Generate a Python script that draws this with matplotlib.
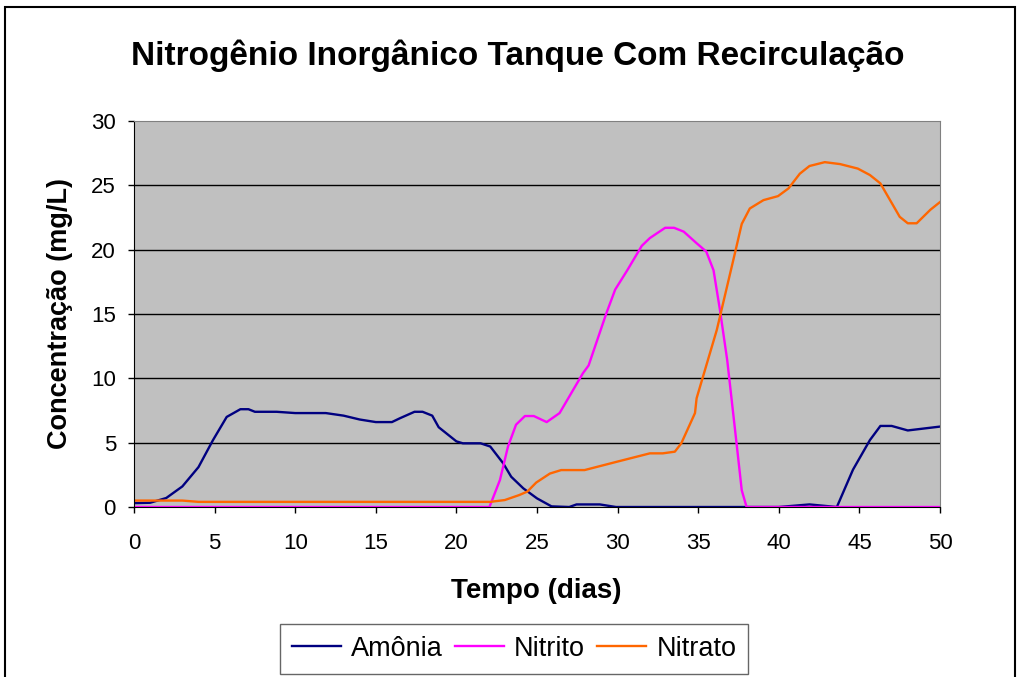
import matplotlib
matplotlib.use("Agg")
import matplotlib.pyplot as plt
from matplotlib.patches import Rectangle

plt.rcParams['font.family'] = ['Liberation Sans', 'DejaVu Sans']

# Amônia
dias_amonia = [0, 1, 2, 3, 4, 4.9, 5.75, 6.6, 7.1, 7.5, 8.85, 10, 11.9, 13, 14, 15,
               16, 16.5, 17.4, 17.9, 18.5, 18.9, 19.6, 20, 20.4, 21.5, 22.1, 22.9,
               23.4, 24.15, 25, 25.9, 27, 27.45, 28.9, 29.9, 35, 40, 41.9, 43.6, 44.6,
               45.65, 46.3, 47, 48, 50]
amonia = [0.3, 0.33, 0.7, 1.6, 3.1, 5.2, 7.0, 7.6, 7.6, 7.4, 7.4, 7.3, 7.3, 7.1, 6.8, 6.6,
          6.6, 6.9, 7.4, 7.4, 7.1, 6.2, 5.5, 5.1, 4.95, 4.95, 4.7, 3.4,
          2.35, 1.45, 0.67, 0.05, 0, 0.2, 0.2, 0, 0, 0, 0.2, 0, 2.9,
          5.2, 6.3, 6.3, 5.95, 6.25]

# Nitrito
dias_nitrito = [0, 22.05, 22.7, 23.2, 23.7, 24.25, 24.8, 25.6, 26.4, 27.85, 28.2, 29.3,
                29.85, 30.6, 31.5, 32, 32.95, 33.5, 34.1, 34.9, 35.5, 35.95, 36.35,
                36.8, 37.4, 37.7, 38, 50]
nitrito = [0, 0, 2.1, 4.7, 6.4, 7.07, 7.07, 6.6, 7.3, 10.4, 11.0, 15.05,
           16.9, 18.4, 20.3, 20.9, 21.7, 21.7, 21.4, 20.5, 19.85, 18.4, 15.3,
           11.4, 4.7, 1.3, 0, 0]

# Nitrato
dias_nitrato = [0, 1, 2, 3, 4, 10, 20, 22.1, 23, 23.9, 24.4, 24.95, 25.8, 26.5, 27.95,
                29.9, 32, 32.8, 33.55, 33.95, 34.8, 34.9, 36.15, 37.3, 37.7, 38.2,
                39.05, 39.95, 40.6, 41.3, 41.9, 42.85, 43.8, 44.9, 45.65, 46.3, 47.5,
                48, 48.55, 49.4, 50]
nitrato = [0.5, 0.5, 0.5, 0.5, 0.4, 0.4, 0.4, 0.4, 0.54, 0.93, 1.2, 1.9, 2.6, 2.87, 2.87,
           3.5, 4.17, 4.17, 4.3, 4.95, 7.3, 8.45, 13.75, 19.85, 22.0, 23.2,
           23.85, 24.16, 24.76, 25.9, 26.5, 26.8, 26.65, 26.3, 25.8, 25.15, 22.55,
           22.05, 22.05, 23.1, 23.7]

fig = plt.figure(figsize=(10.19, 6.77), dpi=100)
ax = fig.add_axes([0.1315, 0.2511, 0.791, 0.5702])
ax.set_facecolor('#C0C0C0')

ax.plot(dias_amonia, amonia, color='#000080', lw=1.7, label='Amônia')
ax.plot(dias_nitrito, nitrito, color='#FF00FF', lw=1.7, label='Nitrito')
ax.plot(dias_nitrato, nitrato, color='#FF6600', lw=1.7, label='Nitrato')

ax.set_xlim(0, 50)
ax.set_ylim(0, 30)
ax.set_xticks(range(0, 51, 5))
ax.set_yticks(range(0, 31, 5))
for v in range(5, 30, 5):
    ax.axhline(v, color='black', lw=1, zorder=0.5)
ax.tick_params(labelsize=16, length=4.5, width=1, color='black', direction='out')
ax.tick_params(axis='x', pad=14)
ax.tick_params(axis='y', pad=8.5)
for s in ['top', 'right']:
    ax.spines[s].set_color('#808080')
for s in ['left', 'bottom']:
    ax.spines[s].set_color('black')

ax.set_xlabel('Tempo (dias)', fontsize=20, fontweight='bold')
ax.set_ylabel('Concentração (mg/L)', fontsize=19.5, fontweight='bold')
ax.xaxis.set_label_coords(0.499, -0.185)
ax.yaxis.set_label_coords(-0.0757, 0.5)

fig.text(0.508, 0.918, 'Nitrogênio Inorgânico Tanque Com Recirculação',
         fontsize=24, fontweight='bold', ha='center', va='center')

leg = fig.legend(loc='center', bbox_to_anchor=(0.5045, 0.0414), ncol=3, fontsize=19.5,
                 frameon=True, fancybox=False, edgecolor='#404040', handlelength=1.8,
                 columnspacing=0.45, handletextpad=0.38, borderpad=0.45)
leg.get_frame().set_linewidth(1)

fig.add_artist(Rectangle((5 / 1019, -0.1), 1010 / 1019, 1.1 - 7 / 677,
                         transform=fig.transFigure, fill=False, edgecolor='black', lw=1.5))

fig.savefig('out.png', dpi=100)
